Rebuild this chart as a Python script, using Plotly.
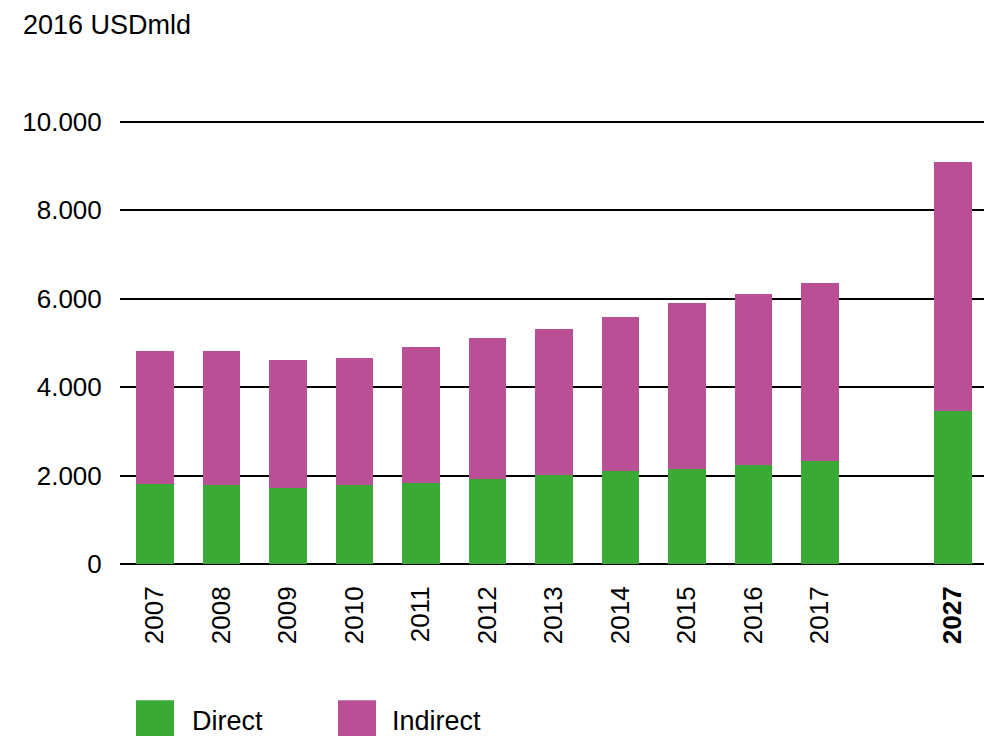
import plotly.graph_objects as go

years = ["2007", "2008", "2009", "2010", "2011", "2012", "2013", "2014", "2015", "2016", "2017", "2027"]
direct = [1800, 1790, 1710, 1780, 1840, 1930, 2010, 2100, 2160, 2250, 2320, 3460]
indirect = [3025, 3035, 2910, 2885, 3075, 3190, 3310, 3495, 3750, 3865, 4040, 5635]
tick_labels_y = ["0", "2.000", "4.000", "6.000", "8.000", "10.000"]
tick_vals_y = [0, 2000, 4000, 6000, 8000, 10000]
y_title = "2016 USDmld"
series_names = ["Direct", "Indirect"]
colors = ["#3ba935", "#b95096"]

# slot positions: one empty slot between the historical years and the projection
slots = []
for i, y in enumerate(years):
    slots.append(i + (1 if int(y) > 2017 else 0))

ticktext = [("<b>%s</b>" % y) if int(y) > 2017 else y for y in years]

FONT = "Liberation Sans, Arial, sans-serif"
W, H = 984, 736
L, R, T, B = 120, 0, 120, 171.5
pw, ph = W - L - R, H - T - B

def px_x(x):
    return (x - L) / pw

def px_y(y):
    return (H - B - y) / ph

fig = go.Figure()
for name, vals, col in zip(series_names, [direct, indirect], colors):
    fig.add_trace(go.Bar(x=slots, y=vals, name=name, marker=dict(color=col, line=dict(width=0)),
                         width=0.571, showlegend=False))

fig.update_layout(
    width=W, height=H,
    barmode="stack",
    margin=dict(l=L, r=R, t=T, b=B, pad=0),
    paper_bgcolor="white", plot_bgcolor="white",
    font=dict(family=FONT, size=26, color="black"),
    xaxis=dict(range=[-0.526, 12.466], tickmode="array", tickvals=slots, ticktext=ticktext,
               tickangle=-90, showgrid=False, zeroline=False, showline=False,
               ticks="outside", ticklen=11, tickcolor="rgba(0,0,0,0)",
               tickfont=dict(family=FONT, size=26, color="black")),
    yaxis=dict(range=[0, 10045], tickmode="array", tickvals=tick_vals_y, ticktext=tick_labels_y,
               showgrid=True, gridcolor="black", gridwidth=2, zeroline=True, zerolinecolor="black",
               zerolinewidth=2, showline=False, ticks="outside", ticklen=12, tickcolor="rgba(0,0,0,0)",
               tickfont=dict(family=FONT, size=26, color="black")),
)

fig.add_annotation(text=y_title, xref="paper", yref="paper", x=px_x(21), y=px_y(25),
                   xanchor="left", yanchor="middle", showarrow=False,
                   font=dict(family=FONT, size=27, color="black"))

# custom legend
legend_items = [(136, 190), (338, 390)]
for (sx, tx), name, col in zip(legend_items, series_names, colors):
    fig.add_shape(type="rect", xref="paper", yref="paper", x0=px_x(sx), x1=px_x(sx + 38),
                  y0=px_y(701), y1=px_y(740), fillcolor=col, line=dict(width=0), layer="above")
    fig.add_annotation(text=name, xref="paper", yref="paper", x=px_x(tx), y=px_y(722),
                       xanchor="left", yanchor="middle", showarrow=False,
                       font=dict(family=FONT, size=27, color="black"))

fig.write_html("out.html", config={"displayModeBar": False},
               post_script="document.body.style.margin='0';document.body.style.overflow='hidden';")
